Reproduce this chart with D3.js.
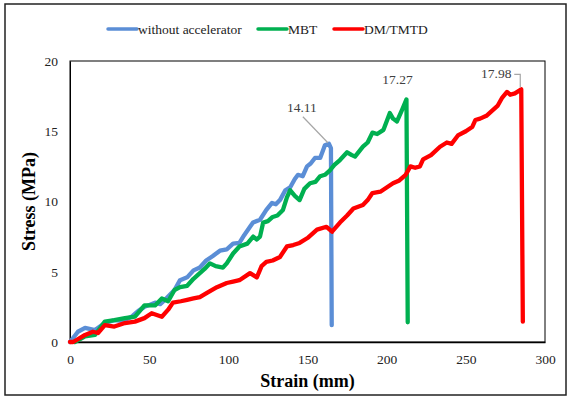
<!DOCTYPE html>
<html>
<head>
<meta charset="utf-8">
<script src="https://cdn.jsdelivr.net/npm/d3@7"></script>
<style>
body { margin: 0; background: #fff; }
</style>
</head>
<body>
<div id="chart-area"></div>
<script>
// strain (mm) / stress (MPa)
const blueX = [0, 5, 9.5, 15.8, 22, 28, 33, 39, 43, 47, 53.7, 57, 60, 66, 69.5, 74, 78, 82, 86, 90, 94.7, 99, 103, 107, 110, 113.7, 115.6, 120, 124, 127.6, 130, 132.6, 136, 139, 142, 144, 147, 149.7, 152, 154.7, 158, 161, 163.5, 164.8, 165.3]
const blueY = [0, 0.73, 1.0, 0.85, 1.35, 1.55, 1.5, 1.8, 2.2, 2.5, 2.8, 2.7, 3.0, 3.7, 4.4, 4.6, 5.1, 5.3, 5.8, 6.1, 6.5, 6.6, 7.0, 7.05, 7.6, 8.2, 8.5, 8.7, 9.4, 9.9, 9.8, 10.1, 10.8, 11.0, 11.6, 11.9, 11.8, 12.5, 12.7, 13.1, 13.1, 14.0, 14.11, 13.8, 1.2]

const greenX = [3, 9.5, 15.8, 22, 28, 34.7, 41, 44, 47, 53.7, 58, 62, 66, 69.5, 74, 78, 82, 85, 88.4, 92, 96.6, 99, 103, 107, 112, 115.7, 118, 120, 122, 125, 128, 131, 134.5, 137, 139, 142, 145, 148, 151.6, 155, 158, 161, 164, 167, 170.5, 175, 178, 180, 185, 188, 191, 194, 198, 202, 204, 206.5, 210, 212.5, 213.3]
const greenY = [0, 0.4, 0.5, 1.45, 1.55, 1.7, 1.8, 2.2, 2.6, 2.6, 3.1, 2.9, 3.7, 3.9, 4.0, 4.5, 4.9, 5.2, 5.6, 5.4, 5.3, 5.6, 6.3, 6.8, 7.0, 7.5, 7.3, 7.5, 8.5, 8.6, 8.9, 9.0, 9.4, 10.3, 10.8, 10.4, 10.1, 10.9, 11.3, 11.4, 11.8, 11.9, 12.2, 12.6, 12.95, 13.5, 13.3, 13.2, 13.9, 14.2, 14.9, 14.8, 15.1, 16.3, 15.9, 15.7, 16.6, 17.27, 1.4]

const redX = [0, 2, 9.5, 14.5, 17.7, 22, 28, 34.7, 41, 47, 51.6, 58, 62, 65, 70, 74, 78, 82, 86.5, 92.8, 99, 103, 107, 113.7, 118, 121, 124, 128, 132.6, 137, 141, 145, 150, 156, 162, 165.5, 170.5, 175, 179, 185, 188, 191, 196, 200, 204, 208, 212, 215, 218, 221, 223, 228, 233.7, 238, 241, 245, 250, 254, 256, 259, 263, 267, 270, 273, 276, 278, 281, 285, 286]
const redY = [0, 0, 0.5, 0.73, 0.64, 1.2, 1.1, 1.35, 1.45, 1.7, 2.05, 1.8, 2.3, 2.8, 2.9, 3.0, 3.1, 3.2, 3.5, 3.9, 4.2, 4.3, 4.4, 4.9, 4.6, 5.4, 5.7, 5.8, 6.05, 6.8, 6.9, 7.05, 7.4, 8.0, 8.2, 7.85, 8.5, 9.0, 9.5, 9.75, 10.1, 10.6, 10.7, 11.0, 11.3, 11.5, 11.9, 12.5, 12.4, 12.5, 13.0, 13.3, 13.9, 14.2, 14.1, 14.7, 15.0, 15.3, 15.8, 15.9, 16.1, 16.5, 16.8, 17.4, 17.8, 17.6, 17.7, 17.98, 1.45]

const seriesNames = ["without accelerator", "MBT", "DM/TMTD"]
const seriesColors = ["#5b8ed6", "#00b050", "#ff0000"]
const peakLabels = ["14.11", "17.27", "17.98"]

const xTicks = [0, 50, 100, 150, 200, 250, 300]
const yTicks = [0, 5, 10, 15, 20]

const W = 570, H = 398
const MARGIN = { LEFT: 70, RIGHT: 25, TOP: 61, BOTTOM: 56 }
const WIDTH = W - MARGIN.LEFT - MARGIN.RIGHT
const HEIGHT = H - MARGIN.TOP - MARGIN.BOTTOM
const FONT = "'Times New Roman', 'Liberation Serif', 'DejaVu Serif', serif"

const svg = d3.select("#chart-area").append("svg")
	.attr("width", W)
	.attr("height", H)
	.style("font-family", FONT)

// outer frame
svg.append("rect")
	.attr("x", 5).attr("y", 4)
	.attr("width", 561).attr("height", 391)
	.attr("fill", "none").attr("stroke", "#222").attr("stroke-width", 1.5)

const g = svg.append("g")
	.attr("transform", `translate(${MARGIN.LEFT}, ${MARGIN.TOP})`)

const x = d3.scaleLinear().domain([0, 300]).range([0, WIDTH])
const y = d3.scaleLinear().domain([0, 20]).range([HEIGHT, 0])

// plot area box
g.append("rect")
	.attr("width", WIDTH).attr("height", HEIGHT)
	.attr("fill", "none").attr("stroke", "#000").attr("stroke-width", 1)

const xAxis = g.append("g")
	.attr("transform", `translate(0, ${HEIGHT})`)
	.call(d3.axisBottom(x).tickValues(xTicks).tickSize(0).tickPadding(12))
xAxis.select(".domain").attr("stroke", "#000").attr("stroke-width", 1.5)

const yAxis = g.append("g")
	.call(d3.axisLeft(y).tickValues(yTicks).tickSize(0).tickPadding(12))
yAxis.select(".domain").attr("stroke", "#000")

xAxis.attr("font-family", null)
yAxis.attr("font-family", null)
g.selectAll(".tick text")
	.style("font-family", FONT)
	.attr("font-size", 13.5)
	.attr("fill", "#222")

svg.append("text")
	.attr("x", MARGIN.LEFT + WIDTH / 2)
	.attr("y", 387)
	.attr("text-anchor", "middle")
	.style("font-family", FONT)
	.attr("font-size", 18)
	.attr("font-weight", "bold")
	.text("Strain (mm)")

svg.append("text")
	.attr("transform", `translate(35, ${MARGIN.TOP + HEIGHT / 2}) rotate(-90)`)
	.attr("text-anchor", "middle")
	.style("font-family", FONT)
	.attr("font-size", 18)
	.attr("font-weight", "bold")
	.text("Stress (MPa)")

const allX = [blueX, greenX, redX]
const allY = [blueY, greenY, redY]

const line = d3.line()
	.x(d => x(d[0]))
	.y(d => y(d[1]))

allX.forEach((xs, i) => {
	const pts = xs.map((v, j) => [v, allY[i][j]])
	g.append("path")
		.datum(pts)
		.attr("d", line)
		.attr("fill", "none")
		.attr("stroke", seriesColors[i])
		.attr("stroke-width", 4.3)
		.attr("stroke-linejoin", "round")
		.attr("stroke-linecap", "round")
})

// peak labels
const peakIdx = allY.map(ys => ys.indexOf(d3.max(ys)))
const labelOffset = [[-27, -32], [-9, -15], [-25, -11]]
peakIdx.forEach((k, i) => {
	const px = x(allX[i][k]), py = y(allY[i][k])
	const lx = px + labelOffset[i][0], ly = py + labelOffset[i][1]
	g.append("text")
		.attr("x", lx).attr("y", ly)
		.attr("text-anchor", "middle")
		.style("font-family", FONT)
		.attr("font-size", 13.5)
		.attr("fill", "#404040")
		.text(peakLabels[i])
	if (i === 0) {
		g.append("line")
			.attr("x1", lx + 1).attr("y1", ly + 5)
			.attr("x2", px - 1).attr("y2", py - 1)
			.attr("stroke", "#a6a6a6").attr("stroke-width", 1.2)
	}
	if (i === 2) {
		g.append("path")
			.attr("d", `M${lx + 18},${ly - 4} H${px - 1} V${py - 2}`)
			.attr("fill", "none")
			.attr("stroke", "#a6a6a6").attr("stroke-width", 1.2)
	}
})

// legend
const legendX = [108, 258, 334]
const legend = svg.append("g")
seriesNames.forEach((name, i) => {
	legend.append("line")
		.attr("x1", legendX[i]).attr("x2", legendX[i] + 29)
		.attr("y1", 29).attr("y2", 29)
		.attr("stroke", seriesColors[i]).attr("stroke-width", 3.5)
		.attr("stroke-linecap", "round")
	legend.append("text")
		.attr("x", legendX[i] + 30).attr("y", 33.5)
		.style("font-family", FONT)
		.attr("font-size", 13.5)
		.attr("fill", "#222")
		.text(name)
})
</script>
</body>
</html>
